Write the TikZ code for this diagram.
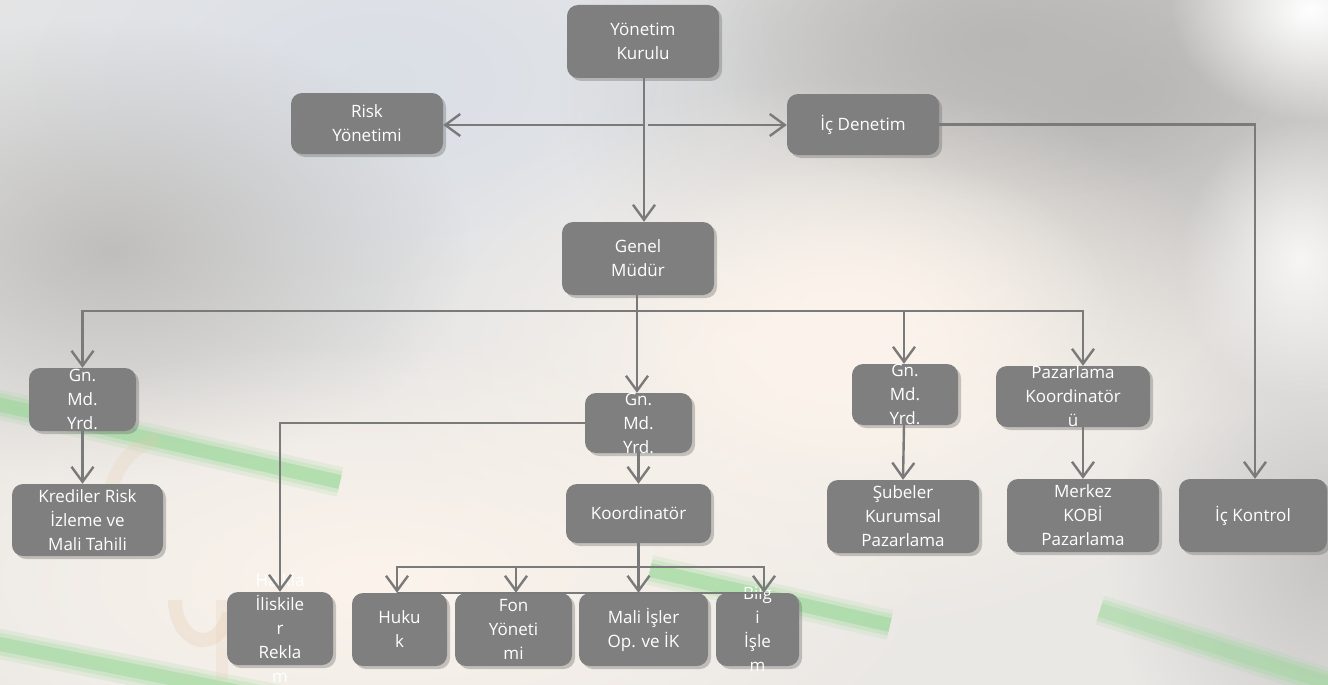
\documentclass[tikz,border=0pt]{standalone}
\usepackage{fontspec}
\setmainfont{Open Sans}
\usetikzlibrary{arrows.meta,shadows,calc,fadings}
\definecolor{boxgray}{HTML}{7F7F7F}
\definecolor{linegray}{HTML}{7A7A7A}
\definecolor{bgbase}{HTML}{EAE8E5}
\definecolor{bgblue}{HTML}{DADFE7}
\definecolor{bggray}{HTML}{B8B7B5}
\definecolor{bgwarm}{HTML}{FCF4EC}
\definecolor{stripegreen}{HTML}{8FD68F}
\definecolor{logoorange}{HTML}{E6CBAE}
\tikzfading[name=fuzzy, inner color=transparent!0, outer color=transparent!100]
\tikzset{
  orgbox/.style={fill=boxgray, draw=none, rounded corners=11pt, inner sep=0pt,
    drop shadow={shadow xshift=3pt, shadow yshift=-3pt, opacity=0.35, fill=black!60}},
  orgtext/.style={text=white, align=center, inner sep=0pt,
    font=\fontsize{17}{24}\selectfont},
  conn/.style={draw=linegray, line width=2.4pt,
    -{Straight Barb[length=15pt,width=22pt,line width=2.4pt]}},
  plain/.style={draw=linegray, line width=2.4pt},
  blob/.style={fill=#1, path fading=fuzzy}
}
\newcommand\orgbox[5]{%
  \node[orgbox, minimum width=#3, minimum height=#4] (#1) at (#2) {};
  \node[orgtext] (#1t) at (#1) {#5};}
\newcommand\softstripe[3]{%
  \draw[stripegreen, line width=30pt, opacity=0.15] #1 -- #2;
  \draw[stripegreen, line width=22pt, opacity=0.22] #1 -- #2;
  \draw[stripegreen, line width=14pt, opacity=#3] #1 -- #2;}
\begin{document}
\begin{tikzpicture}[x=1pt,y=-1pt]
% ---------- background ----------
\fill[bgbase] (0,0) rectangle (1328,685);
\useasboundingbox (0,0) rectangle (1328,685);
\begin{scope}
\clip (0,0) rectangle (1328,685);
\fill[blob=bgblue] (380,80) ellipse [x radius=620, y radius=360];
\fill[blob=bggray] (1120,90) ellipse [x radius=560, y radius=330];
\fill[blob=bggray] (1000,40) ellipse [x radius=300, y radius=160];
\fill[blob=bggray!90] (110,250) ellipse [x radius=360, y radius=230];
\fill[blob=bgwarm] (820,360) ellipse [x radius=460, y radius=280];
\fill[blob=bgwarm] (860,320) ellipse [x radius=260, y radius=170];
\fill[blob=bgwarm] (380,580) ellipse [x radius=560, y radius=240];
\fill[blob=white] (1310,10) ellipse [x radius=140, y radius=110];
\fill[blob=bggray!80] (1330,560) ellipse [x radius=220, y radius=260];
\fill[blob=white!60!bgbase] (1300,260) ellipse [x radius=120, y radius=140];
% green stripes
\softstripe{(-20,400)}{(340,482)}{0.45}
\softstripe{(-20,640)}{(280,700)}{0.4}
\softstripe{(650,570)}{(890,625)}{0.45}
\softstripe{(1100,610)}{(1350,690)}{0.25}
% faint logo strokes
\draw[logoorange, line width=14pt, opacity=0.3] (175,600) arc[start angle=180, end angle=20, x radius=28, y radius=40];
\draw[logoorange, line width=14pt, opacity=0.22] (110,520) arc[start angle=170, end angle=260, x radius=60, y radius=70];
\draw[logoorange, line width=12pt, opacity=0.22] (222,600) -- (222,680);
\end{scope}
% ---------- boxes ----------
\orgbox{yk}{643,41.5}{152pt}{73pt}{Yönetim\\Kurulu}
\orgbox{risk}{367,123.5}{152pt}{61pt}{Risk\\Yönetimi}
\orgbox{icd}{863,124.5}{152pt}{61pt}{İç Denetim}
\orgbox{gm}{638,258.5}{152pt}{73pt}{Genel\\Müdür}
\orgbox{gl}{82.5,399.5}{107pt}{63pt}{Gn.\\Md.\\Yrd.}
\orgbox{kr}{87.5,520}{151pt}{72pt}{Krediler Risk\\İzleme ve\\Mali Tahili}
\orgbox{gmid}{638.5,423}{107pt}{60pt}{Gn.\\Md.\\Yrd.}
\orgbox{koord}{638.5,513.5}{145pt}{59pt}{Koordinatör}
\orgbox{halk}{280,628.5}{106pt}{73pt}{Halkla\\İliskile\\r\\Rekla\\m}
\orgbox{huk}{399.5,629.5}{95pt}{73pt}{Huku\\k}
\orgbox{fon}{513.5,629.5}{117pt}{73pt}{Fon\\Yöneti\\mi}
\orgbox{mali}{643.5,629.5}{129pt}{73pt}{Mali İşler\\Op. ve İK}
\orgbox{bilgi}{757.5,629.5}{83pt}{73pt}{Bilg\\i\\İşle\\m}
\orgbox{gr}{905,394.5}{106pt}{61pt}{Gn.\\Md.\\Yrd.}
\orgbox{paz}{1073,396.5}{154pt}{61pt}{Pazarlama\\Koordinatör\\ü}
\orgbox{sub}{903,516.5}{152pt}{73pt}{Şubeler\\Kurumsal\\Pazarlama}
\orgbox{mer}{1083,515.5}{152pt}{73pt}{Merkez\\KOBİ\\Pazarlama}
\orgbox{ick}{1253,515.5}{148pt}{73pt}{İç Kontrol}
% ---------- connectors ----------
\coordinate (jl) at (644,125);
\coordinate (jr) at (648,125);
\coordinate (bus) at (637,311);
\coordinate (bus2) at (638,567);
\draw[conn] (yk.south -| jl) -- (jl |- gm.north);
\draw[conn] (jl) -- (jl -| risk.east);
\draw[conn] (jr) -- (jr -| icd.west);
\draw[conn] (icd.east) -| ($(ick.north)+(2,0)$);
\draw[plain] (bus -| gl.north) -- (bus -| mer.north);
\draw[conn] (gm.south -| bus) -- (bus |- gmid.north);
\draw[conn] (bus) -| (gl.north);
\draw[conn] (bus) -| ($(gr.north)+(-1,0)$);
\draw[conn] (bus) -| (paz.north -| mer.north);
\draw[conn] (gl.south) -- (kr.north -| gl.south);
\draw[conn] (gmid.west) -| (halk.north);
\draw[conn] (gmid.south) -- (koord.north);
\draw[plain] ($(huk.north)+(-2.5,0)$ |- bus2) -- ($(bilgi.north)+(6.5,0)$ |- bus2);
\draw[conn] (koord.south) -- (koord.south |- mali.north);
\draw[conn] (bus2) -| ($(huk.north)+(-2.5,0)$);
\draw[conn] (bus2) -| ($(fon.north)+(2.5,0)$);
\draw[conn] (bus2) -| ($(bilgi.north)+(6.5,0)$);
\draw[conn] ($(gr.south)+(-1,0)$) -- ($(sub.north)+(0,0)$);
\draw[conn] (paz.south -| mer.north) -- (mer.north);
\end{tikzpicture}
\end{document}
